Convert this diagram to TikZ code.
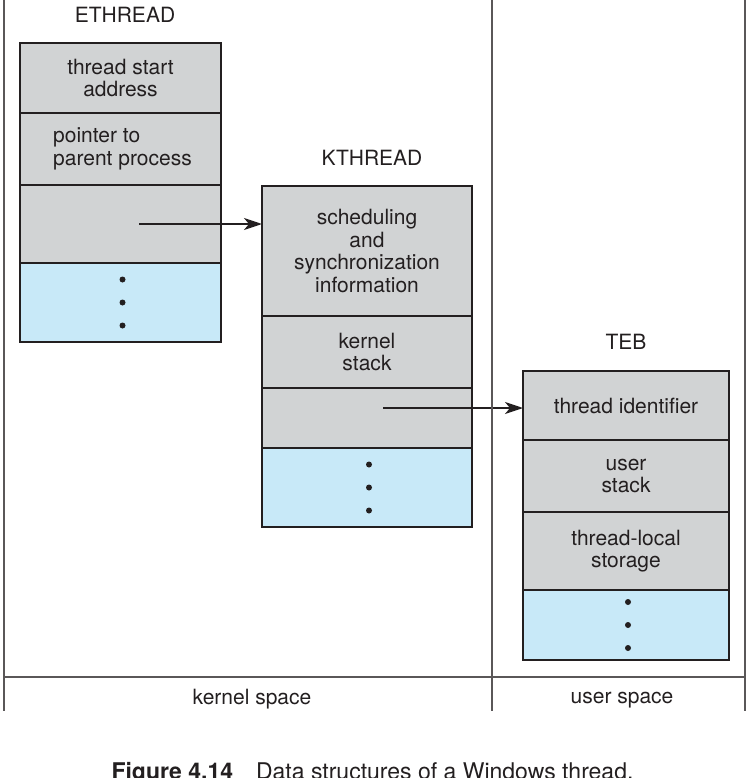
\documentclass[tikz,border=0pt]{standalone}
\usepackage{fontspec}
\setmainfont{TeX Gyre Heros}
\usetikzlibrary{positioning, arrows.meta}
\definecolor{cellgray}{HTML}{D1D3D4}
\definecolor{cellblue}{HTML}{C8E9F8}
\definecolor{ink}{HTML}{231F20}
\tikzset{
    x=1pt, y=-1pt, % one unit is one pixel of the figure
    >={Stealth[length=18pt, width=12pt, inset=5pt]}, % big filled arrow heads
    node distance=0pt, % cells of a record touch each other
    every node/.style={font=\fontsize{21}{22.6}\selectfont, text=ink},
    cell/.style={draw=ink, line width=1.1pt, fill=cellgray, inner sep=0pt, outer sep=0pt, align=center},
    more/.style={cell, fill=cellblue}, % the open end of a record
    title/.style={font=\fontsize{21}{22.6}\selectfont},
    frame/.style={draw=ink!75, line width=1.5pt},
}
\begin{document}
\begin{tikzpicture}
    \useasboundingbox (0,0) rectangle (755,778);
    % ETHREAD record
    \node[title] (eth) at (125,15) {ETHREAD};
    \node[cell, minimum width=201pt, minimum height=70pt] (e1) at (120.5,78) {thread start\\address};
    \node[cell, align=left, minimum width=201pt, minimum height=72pt, below=of e1] (e2) {\hspace*{4pt}pointer to\\\hspace*{4pt}parent process};
    \node[cell, minimum width=201pt, minimum height=78pt, below=of e2] (e3) {};
    \node[more, minimum width=201pt, minimum height=79pt, below=of e3] (e4) {};
    % KTHREAD record
    \node[title] (kth) at (372,158) {KTHREAD};
    \node[cell, minimum width=210pt, minimum height=130pt] (k1) at (367,251) {scheduling\\and\\synchronization\\information};
    \node[cell, minimum width=210pt, minimum height=72pt, below=of k1] (k2) {kernel\\stack};
    \node[cell, minimum width=210pt, minimum height=60pt, below=of k2] (k3) {};
    \node[more, minimum width=210pt, minimum height=79pt, below=of k3] (k4) {};
    % TEB record
    \node[title] (teb) at (626,342) {TEB};
    \node[cell, minimum width=206pt, minimum height=69pt] (t1) at (626,405.5) {thread identifier};
    \node[cell, minimum width=206pt, minimum height=72pt, below=of t1] (t2) {user\\stack};
    \node[cell, minimum width=206pt, minimum height=78pt, below=of t2] (t3) {thread-local\\storage};
    \node[more, minimum width=206pt, minimum height=70pt, below=of t3] (t4) {};
    % dots in the open ends
    \foreach \r in {e4, k4, t4}
        \foreach \d in {-23, 0, 23}
            \fill[ink] ([xshift=2pt, yshift=\d pt]\r.center) circle (3pt);
    % pointers
    \coordinate (p1) at (139,224);
    \coordinate (p2) at (383,408);
    \draw[->, line width=2pt, ink] (p1) -- (p1 -| k1.west);
    \draw[->, line width=2pt, ink] (p2) -- (p2 -| t1.west);
    % kernel / user split
    \draw[frame] (4,0) -- (4,711);
    \draw[frame] (492,0) -- (492,711);
    \draw[frame] (745,0) -- (745,711);
    \draw[frame] (4,677) -- (745,677);
    \node (ks) at (252,699) {kernel space};
    \node (us) at (622,700) {user space};
    % caption
    \node[anchor=base west, font=\fontsize{23}{26}\selectfont] (cap) at (108,779) {\textbf{Figure 4.14}\quad Data structures of a Windows thread.};
\end{tikzpicture}
\end{document}
